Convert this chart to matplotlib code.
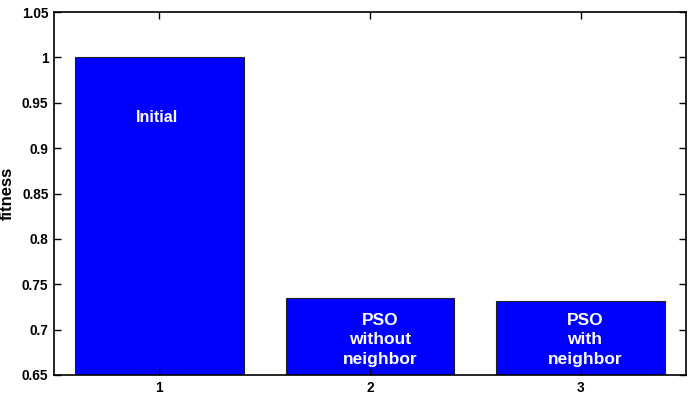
import matplotlib
matplotlib.use("Agg")
import matplotlib.pyplot as plt

positions = [1, 2, 3]
fitness = [1.0, 0.735, 0.731]
bar_labels = ["Initial", "PSO\nwithout\nneighbor", "PSO\nwith\nneighbor"]
yticks = [0.65, 0.7, 0.75, 0.8, 0.85, 0.9, 0.95, 1, 1.05]
ytick_labels = ["0.65", "0.7", "0.75", "0.8", "0.85", "0.9", "0.95", "1", "1.05"]

plt.rcParams['font.family'] = ['Liberation Sans', 'DejaVu Sans']
plt.rcParams['font.weight'] = 'bold'

fig = plt.figure(figsize=(6.92, 3.98), dpi=100)
ax = fig.add_axes([54 / 692, 1 - 375 / 398, 632 / 692, 363 / 398])

ax.bar(positions, fitness, width=0.8, color='#0000ff', edgecolor='#202020', linewidth=0.8)

# text inside the bars
ax.text(0.99, 0.934, bar_labels[0], color='white', fontsize=11.5, fontweight='bold',
        ha='center', va='center')
ax.text(2.047, 0.6886, bar_labels[1], color='white', fontsize=12.5, fontweight='bold',
        ha='center', va='center', linespacing=1.4)
ax.text(3.02, 0.6886, bar_labels[2], color='white', fontsize=12.5, fontweight='bold',
        ha='center', va='center', linespacing=1.4)

ax.set_xlim(0.5, 3.5)
ax.set_ylim(0.65, 1.05)
ax.set_xticks(positions)
ax.set_xticklabels([str(p) for p in positions], fontsize=9.8, fontweight='bold')
ax.set_yticks(yticks)
ax.set_yticklabels(ytick_labels, fontsize=9.8, fontweight='bold')
ax.tick_params(direction='in', top=True, right=True, length=5, width=1, pad=4)
ax.set_ylabel('fitness', fontsize=12, fontweight='bold', labelpad=5)
for s in ax.spines.values():
    s.set_linewidth(1.2)

fig.savefig('out.png', dpi=100)
